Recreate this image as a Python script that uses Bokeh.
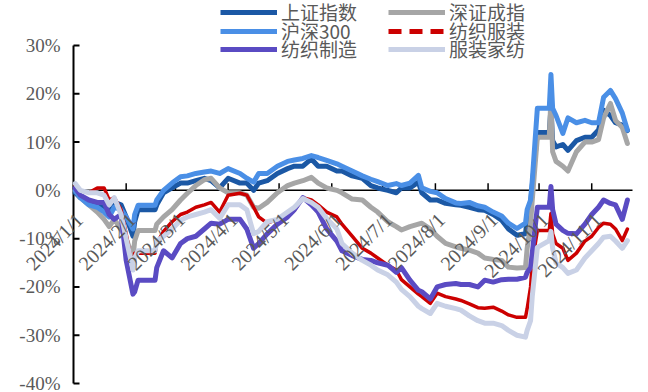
import pandas as pd
from bokeh.plotting import figure
from bokeh.models import ColumnDataSource, LabelSet, Legend, LegendItem, Range1d
from bokeh.embed import file_html
from bokeh.resources import INLINE

# Cumulative change since the start of 2024 (%), sampled on trading days
dates = [
    "2024-01-02", "2024-01-05", "2024-01-10", "2024-01-15", "2024-01-19", "2024-01-22",
    "2024-01-25", "2024-01-29", "2024-02-01", "2024-02-05", "2024-02-06", "2024-02-08",
    "2024-02-18", "2024-02-19", "2024-02-23", "2024-02-28", "2024-03-04", "2024-03-08",
    "2024-03-13", "2024-03-18", "2024-03-22", "2024-03-27", "2024-04-01", "2024-04-08",
    "2024-04-12", "2024-04-16", "2024-04-19", "2024-04-24", "2024-04-30", "2024-05-06",
    "2024-05-10", "2024-05-15", "2024-05-20", "2024-05-24", "2024-05-29", "2024-06-04",
    "2024-06-07", "2024-06-13", "2024-06-19", "2024-06-24", "2024-06-28", "2024-07-04",
    "2024-07-09", "2024-07-12", "2024-07-17", "2024-07-22", "2024-07-24", "2024-07-29",
    "2024-08-02", "2024-08-07", "2024-08-13", "2024-08-16", "2024-08-21", "2024-08-26",
    "2024-08-30", "2024-09-04", "2024-09-09", "2024-09-13", "2024-09-18", "2024-09-23",
    "2024-09-24", "2024-09-26", "2024-09-27", "2024-09-30", "2024-10-07", "2024-10-08",
    "2024-10-09", "2024-10-11", "2024-10-15", "2024-10-18", "2024-10-23", "2024-10-28",
    "2024-11-01", "2024-11-05", "2024-11-08", "2024-11-12", "2024-11-15", "2024-11-19",
    "2024-11-22",
]

shanghai = [  # 上证指数
    -0.5, -1.5, -2.5, -2.5, -3.5, -5.0, -2.5, -3.0, -5.5, -9.5, -6.5, -4.0,
    -4.0, -3.0, -0.5, 0.5, 1.5, 1.5, 2.0, 2.5, 2.0, 0.5, 2.5, 1.5,
    1.5, 0.0, 1.5, 2.0, 3.5, 4.5, 5.0, 5.0, 6.5, 5.0, 5.0, 4.0,
    4.0, 3.0, 2.5, 1.0, 0.5, 0.0, -0.5, 0.5, 0.5, 1.7, -0.5, -2.0,
    -2.0, -2.7, -3.0, -3.1, -3.5, -4.0, -4.1, -5.0, -6.2, -8.0, -9.3, -9.0,
    -6.0, -2.5, 1.0, 12.0, 12.0, 17.0, 10.3, 9.0, 9.5, 8.3, 10.3, 11.0,
    11.0, 12.5, 16.6, 15.5, 14.0, 13.5, 12.4,
]
shenzhen = [  # 深证成指
    0.0, -1.5, -3.0, -4.5, -6.0, -7.5, -6.0, -8.0, -10.0, -14.0, -10.5, -8.3,
    -8.3, -7.0, -5.5, -4.0, -2.0, -0.6, 1.0, 2.2, 2.5, 0.5, -0.5, -0.5,
    -1.0, -3.5, -3.7, -2.5, -0.5, 1.0, 1.5, 2.0, 2.7, 1.5, 0.5, 0.0,
    -0.5, -1.8, -2.0, -3.5, -4.5, -6.5, -7.5, -8.2, -7.5, -7.0, -6.8, -8.0,
    -9.5, -11.0, -11.7, -12.0, -12.4, -13.0, -14.0, -14.3, -14.5, -15.9, -16.1, -16.0,
    -12.0, -7.0, -2.0, 11.0, 11.0, 19.0, 8.0, 6.0, 5.0, 4.0, 8.0, 10.0,
    10.0, 10.5, 15.0, 18.0, 14.5, 13.0, 9.7,
]
csi300 = [  # 沪深300
    0.0, -1.5, -3.0, -3.5, -4.5, -5.5, -3.5, -4.0, -5.5, -8.0, -5.0, -3.1,
    -3.1, -2.0, 0.0, 1.5, 2.8, 3.0, 3.5, 3.8, 4.0, 3.5, 4.5, 3.5,
    2.5, 1.7, 3.5, 3.5, 5.0, 6.0, 6.3, 6.6, 7.2, 6.8, 6.2, 5.5,
    5.0, 4.0, 3.0, 2.3, 1.8, 1.0, 1.4, 1.0, 1.5, 3.1, 0.5, -0.2,
    -0.5, -1.7, -2.6, -2.7, -2.5, -3.2, -3.5, -4.5, -5.3, -6.8, -7.9, -6.8,
    -4.0, -2.0, 2.0, 17.0, 17.0, 24.0, 17.0, 15.5, 11.8, 15.0, 14.0, 14.5,
    14.0, 14.0, 19.3, 20.7, 19.0, 16.0, 12.5,
]
textile_apparel = [  # 纺织服装
    1.0, 0.0, -0.5, 0.5, 0.5, -2.0, -1.5, -4.0, -9.0, -16.5, -13.0, -13.0,
    -13.0, -11.0, -8.5, -6.5, -5.0, -4.5, -3.5, -3.0, -2.5, -4.5, -1.0, -0.6,
    -1.0, -3.5, -5.5, -6.8, -6.0, -5.5, -4.1, -1.5, -2.0, -3.0, -4.5, -5.5,
    -7.0, -9.5, -12.0, -13.0, -14.0, -15.5, -16.5, -18.5, -20.0, -21.5, -22.0, -23.4,
    -21.3, -22.0, -22.5, -22.8, -23.5, -24.3, -24.4, -24.2, -25.0, -25.8, -26.3, -26.3,
    -24.5, -20.0, -15.0, -8.3, -8.3, -4.8, -9.0, -11.0, -12.0, -14.5, -13.0, -10.5,
    -9.5, -7.7, -6.8, -7.0, -8.0, -10.4, -8.0,
]
textile_mfg = [  # 纺织制造
    0.5, -1.0, -2.0, -2.5, -2.5, -5.0, -6.0, -5.0, -14.5, -21.5, -21.0, -18.6,
    -18.6, -16.0, -12.5, -14.0, -11.0, -10.0, -9.5, -8.0, -6.8, -7.0, -6.0, -6.0,
    -8.0, -12.0, -11.0, -9.0, -7.0, -5.5, -4.0, -1.5, -3.0, -4.5, -8.0, -10.5,
    -12.5, -13.5, -14.3, -14.5, -15.0, -15.5, -17.0, -16.0, -18.6, -20.7, -21.0, -22.5,
    -20.0, -19.5, -19.3, -19.5, -19.5, -20.0, -18.6, -19.0, -18.5, -18.4, -18.4, -18.0,
    -17.0, -16.0, -13.0, -3.5, -3.5, 0.8, -4.0, -7.0, -8.3, -8.9, -9.0, -7.0,
    -5.0, -3.5, -2.0, -2.7, -3.0, -6.0, -2.0,
]
apparel_home = [  # 服装家纺
    1.4, 0.0, -0.5, -0.5, -1.0, -3.0, -1.5, -5.0, -10.0, -16.5, -14.0, -12.5,
    -12.5, -10.5, -9.5, -8.0, -6.2, -5.5, -5.0, -4.5, -4.0, -5.8, -3.0, -3.0,
    -4.0, -9.0, -8.5, -6.5, -6.0, -4.5, -3.5, -1.7, -2.5, -3.5, -5.8, -8.0,
    -11.0, -13.0, -14.5, -15.5, -16.5, -17.5, -19.0, -20.5, -22.0, -24.0, -24.5, -25.5,
    -23.4, -24.0, -24.5, -24.8, -26.0, -27.0, -27.5, -27.5, -28.0, -29.0, -30.0, -30.4,
    -29.0, -27.0, -22.0, -11.8, -10.4, -8.5, -12.0, -15.0, -16.0, -17.2, -16.5, -14.0,
    -12.5, -11.0, -9.7, -9.5, -10.5, -12.0, -10.4,
]

tick_dates = ["2024-01-01", "2024-02-01", "2024-03-01", "2024-04-01", "2024-05-01", "2024-06-01",
              "2024-07-01", "2024-08-01", "2024-09-01", "2024-10-01", "2024-11-01"]
tick_labels = ["2024/1/1", "2024/2/1", "2024/3/1", "2024/4/1", "2024/5/1", "2024/6/1",
               "2024/7/1", "2024/8/1", "2024/9/1", "2024/10/1", "2024/11/1"]
y_ticks = [-40, -30, -20, -10, 0, 10, 20, 30]
y_tick_labels = ["-40%", "-30%", "-20%", "-10%", "0%", "10%", "20%", "30%"]

# ---- layout: the frame fills the whole canvas, the axes box sits inside it ----
W, H = 648, 392
BOX_LEFT, BOX_RIGHT, BOX_TOP, BOX_BOTTOM = 73, 632, 45, 383
X0, X1 = pd.Timestamp("2024-01-01"), pd.Timestamp("2024-11-25")
Y0, Y1 = -40, 30
px_day = (BOX_RIGHT - BOX_LEFT) / (X1 - X0).days
pct_px = (Y1 - Y0) / (BOX_BOTTOM - BOX_TOP)
x_lo = X0 - pd.Timedelta(days=BOX_LEFT / px_day)
x_hi = X1 + pd.Timedelta(days=(W - BOX_RIGHT) / px_day)
y_hi = Y1 + BOX_TOP * pct_px
y_lo = Y0 - (H - BOX_BOTTOM) * pct_px

GRAY_TEXT = "#595959"
COLORS = {"上证指数": "#1B58A5", "深证成指": "#A6A6A6", "沪深300": "#4A8FE6",
          "纺织服装": "#CC0000", "纺织制造": "#5A4BC3", "服装家纺": "#C9D1E6"}

p = figure(width=W, height=H, x_axis_type="datetime", x_axis_location=None,
           y_axis_location=None, output_backend="svg", toolbar_location=None,
           x_range=Range1d(x_lo, x_hi), y_range=Range1d(y_lo, y_hi),
           min_border=0)
p.background_fill_color = "white"
p.border_fill_color = "white"
p.outline_line_color = None
p.grid.visible = False

# value axis: line, inward ticks, percent labels
p.segment(x0=[X0], y0=[Y0], x1=[X0], y1=[Y1], line_color="black", line_width=2)
tick_dx = pd.Timedelta(days=6 / px_day)
p.segment(x0=[X0] * len(y_ticks), y0=y_ticks, x1=[X0 + tick_dx] * len(y_ticks), y1=y_ticks,
          line_color="black", line_width=2)
ysrc = ColumnDataSource(dict(x=[X0] * len(y_ticks), y=y_ticks, text=y_tick_labels))
p.add_layout(LabelSet(x="x", y="y", text="text", source=ysrc, x_offset=-13,
                      text_align="right", text_baseline="middle", text_color=GRAY_TEXT,
                      text_font="Liberation Sans", text_font_size="19px"))

# date axis through 0%
p.segment(x0=[X0], y0=[0], x1=[X1], y1=[0], line_color="black", line_width=1.5)
tx = pd.to_datetime(tick_dates)
tick_len = 7 * pct_px
p.segment(x0=tx, y0=[0] * len(tx), x1=tx, y1=[tick_len] * len(tx),
          line_color="black", line_width=1.5)

x = pd.to_datetime(dates)
series = [
    ("上证指数", shanghai, 5),
    ("深证成指", shenzhen, 5),
    ("沪深300", csi300, 5),
    ("纺织服装", textile_apparel, 3.5),
    ("纺织制造", textile_mfg, 5),
    ("服装家纺", apparel_home, 5),
]
for name, vals, lw in series:
    p.line(x, vals, line_color=COLORS[name], line_width=lw, line_join="round",
           line_cap="round")

# month labels hanging below the zero axis
xsrc = ColumnDataSource(dict(x=tx, y=[0] * len(tx), text=tick_labels))
p.add_layout(LabelSet(x="x", y="y", text="text", source=xsrc, angle=45, angle_units="deg",
                      text_align="right", text_baseline="middle", x_offset=6, y_offset=-26,
                      text_color=GRAY_TEXT, text_font="Liberation Sans",
                      text_font_size="20px"))

# legend: two columns of three entries above the chart
legend_rows = [("上证指数", 220, 13), ("深证成指", 388, 13),
               ("沪深300", 220, 32), ("纺织服装", 388, 32),
               ("纺织制造", 220, 50), ("服装家纺", 388, 50)]
ITEM_H = 24
for name, left, cy in legend_rows:
    dash = "13 8" if name == "纺织服装" else "solid"
    # a swatch renderer holding a single empty point, used only by the legend
    r = p.line(x=[X0], y=[float("nan")], line_color=COLORS[name], line_width=5,
               line_dash=dash)
    lg = Legend(items=[LegendItem(label=name, renderers=[r])],
                location=(left, H - cy - ITEM_H / 2), orientation="vertical",
                label_text_font="Noto Sans CJK SC", label_text_font_size="19px",
                label_text_color=GRAY_TEXT, glyph_width=57, glyph_height=ITEM_H,
                label_height=ITEM_H, label_standoff=4, spacing=0, padding=0, margin=0,
                border_line_color=None, background_fill_alpha=0)
    p.add_layout(lg, "center")

open("out.html", "w").write(file_html(p, INLINE))
